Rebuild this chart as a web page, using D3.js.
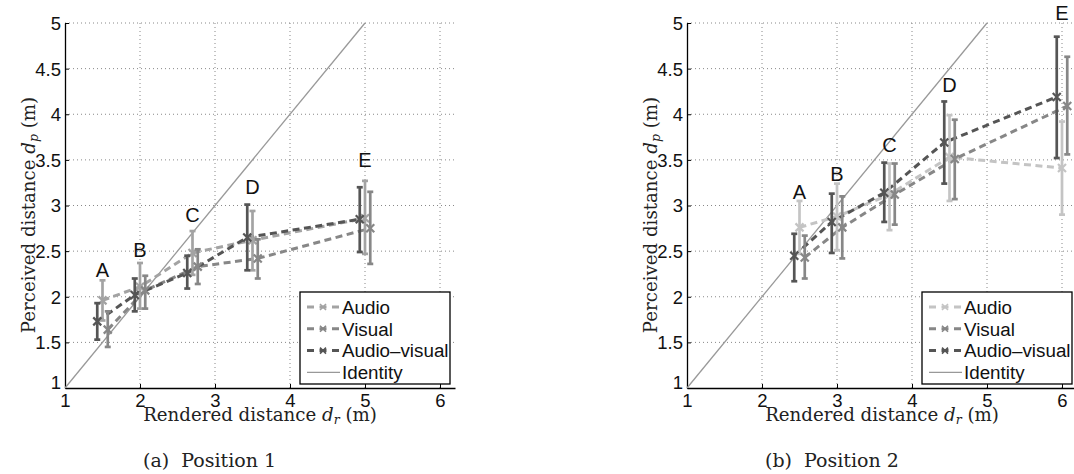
<!DOCTYPE html>
<html><head><meta charset="utf-8">
<script src="https://d3js.org/d3.v7.min.js"></script>
<style>body{margin:0;background:#fff}svg{display:block}</style>
</head><body><svg id="c" width="1074" height="474"></svg>
<script>
// ---------- data ----------
const categories = ["A","B","C","D","E"];
const seriesNames = ["Audio","Visual","Audio\u2013visual"];
const xTicks = [1,2,3,4,5,6];
const yTicks = [1,1.5,2,2.5,3,3.5,4,4.5,5];

// Position 1
const p1Rendered = [1.5, 2.0, 2.7, 3.5, 5.0];
const p1AudioMean = [1.96, 2.11, 2.48, 2.62, 2.86];
const p1AudioHi   = [2.18, 2.37, 2.72, 2.94, 3.27];
const p1AudioLo   = [1.74, 1.87, 2.24, 2.29, 2.47];
const p1VisualMean = [1.64, 2.07, 2.33, 2.42, 2.75];
const p1VisualHi   = [1.84, 2.23, 2.52, 2.63, 3.15];
const p1VisualLo   = [1.45, 1.87, 2.14, 2.20, 2.36];
const p1AVMean = [1.73, 2.02, 2.26, 2.65, 2.85];
const p1AVHi   = [1.93, 2.20, 2.45, 3.01, 3.20];
const p1AVLo   = [1.53, 1.84, 2.09, 2.29, 2.49];
const p1LabelY = [2.29, 2.52, 2.90, 3.20, 3.50];

// Position 2
const p2Rendered = [2.5, 3.0, 3.7, 4.5, 6.0];
const p2AudioMean = [2.76, 2.88, 3.12, 3.53, 3.41];
const p2AudioHi   = [3.05, 3.24, 3.46, 3.99, 3.92];
const p2AudioLo   = [2.47, 2.51, 2.73, 3.05, 2.90];
const p2VisualMean = [2.43, 2.76, 3.12, 3.51, 4.09];
const p2VisualHi   = [2.67, 3.10, 3.46, 3.94, 4.63];
const p2VisualLo   = [2.20, 2.42, 2.79, 3.07, 3.56];
const p2AVMean = [2.45, 2.82, 3.14, 3.69, 4.19];
const p2AVHi   = [2.69, 3.13, 3.47, 4.14, 4.85];
const p2AVLo   = [2.17, 2.48, 2.82, 3.24, 3.52];
const p2LabelY = [3.15, 3.35, 3.66, 4.32, 5.11];

const identity = [[1,1],[5,5]];

// ---------- drawing ----------
const svg = d3.select("#c");
const SANS = "'Liberation Sans', Arial, Helvetica, sans-serif";
const SERIF = "'DejaVu Serif', 'Liberation Serif', serif";
const seriesOffset = [0, 0.07, -0.07];

function panel(cfg){
  const g = svg.append("g");
  const x = d3.scaleLinear().domain([1, 6.2]).range([cfg.left, cfg.left + 390]);
  const y = d3.scaleLinear().domain([1, 5]).range([388, 23]);

  // grid
  g.append("g").selectAll("line").data(xTicks.slice(1)).join("line")
    .attr("x1", d => x(d)).attr("x2", d => x(d)).attr("y1", y(1)).attr("y2", y(5))
    .attr("stroke", "#888").attr("stroke-width", 1).attr("stroke-dasharray", "1,3");
  g.append("g").selectAll("line").data(yTicks.slice(1)).join("line")
    .attr("x1", x(1)).attr("x2", x(6.2)).attr("y1", d => y(d)).attr("y2", d => y(d))
    .attr("stroke", "#888").attr("stroke-width", 1).attr("stroke-dasharray", "1,3");

  // axes
  const xa = g.append("g").attr("transform", `translate(0,${y(1)})`)
    .call(d3.axisBottom(x).tickValues(xTicks).tickFormat(d3.format("d")).tickSizeInner(-4).tickSizeOuter(0).tickPadding(6));
  const ya = g.append("g").attr("transform", `translate(${x(1)},0)`)
    .call(d3.axisLeft(y).tickValues(yTicks).tickFormat(d => String(d)).tickSizeInner(-4).tickSizeOuter(0).tickPadding(4));
  [xa, ya].forEach(a => {
    a.select(".domain").attr("stroke", "#000").attr("stroke-width", 1.3);
    a.selectAll(".tick line").attr("stroke", "#000");
    a.selectAll("text").attr("font-family", SANS).attr("font-size", 18.5).attr("fill", "#111");
  });
  ya.selectAll(".tick text").attr("dy", "0.35em");
  ya.selectAll(".tick").filter(d => d === 1).select("text").attr("dy", "0.0em");

  // identity line
  g.append("line")
    .attr("x1", x(identity[0][0])).attr("y1", y(identity[0][1]))
    .attr("x2", x(identity[1][0])).attr("y2", y(identity[1][1]))
    .attr("stroke", "#999").attr("stroke-width", 1.3);

  // series lines
  cfg.series.forEach((s, si) => {
    const pts = cfg.rendered.map((r, i) => [x(r + seriesOffset[si]), y(s.mean[i])]);
    g.append("path").attr("d", d3.line()(pts)).attr("fill", "none")
      .attr("stroke", s.color).attr("stroke-width", 3).attr("stroke-dasharray", "7,4.5");
  });
  // error bars + markers
  [0, 1, 2].forEach(si => {
    const s = cfg.series[si];
    cfg.rendered.forEach((r, i) => {
      const cx = x(r + seriesOffset[si]);
      const eg = g.append("g").attr("stroke", s.color).attr("stroke-width", 2.7);
      eg.append("line").attr("x1", cx).attr("x2", cx).attr("y1", y(s.hi[i])).attr("y2", y(s.lo[i]));
      eg.append("line").attr("x1", cx - 3).attr("x2", cx + 3).attr("y1", y(s.hi[i])).attr("y2", y(s.hi[i]));
      eg.append("line").attr("x1", cx - 3).attr("x2", cx + 3).attr("y1", y(s.lo[i])).attr("y2", y(s.lo[i]));
      const my = y(s.mean[i]);
      eg.append("path").attr("d", `M${cx-4},${my-4}L${cx+4},${my+4}M${cx-4},${my+4}L${cx+4},${my-4}`).attr("stroke-width", 2.2);
    });
  });

  // category labels
  g.append("g").selectAll("text").data(categories).join("text")
    .attr("x", (d, i) => x(cfg.rendered[i])).attr("y", (d, i) => y(cfg.labelY[i]))
    .attr("dy", "0.36em").attr("text-anchor", "middle")
    .attr("font-family", SANS).attr("font-size", 20).attr("fill", "#111").text(d => d);

  // legend
  const lx = cfg.left + 235, ly = 292;
  const lg = g.append("g");
  lg.append("rect").attr("x", lx).attr("y", ly).attr("width", 150).attr("height", 92)
    .attr("fill", "#fff").attr("stroke", "#000").attr("stroke-width", 1.3);
  [0, 1, 2, 3].forEach(ri => {
    const ry = ly + 15 + ri * 21.8;
    if (ri < 3) {
      const s = cfg.series[ri];
      lg.append("line").attr("x1", lx + 7).attr("x2", lx + 39).attr("y1", ry).attr("y2", ry)
        .attr("stroke", s.color).attr("stroke-width", 3).attr("stroke-dasharray", "7,5.5");
      const mx = lx + 23;
      lg.append("path").attr("d", `M${mx-3},${ry-3}L${mx+3},${ry+3}M${mx-3},${ry+3}L${mx+3},${ry-3}`)
        .attr("stroke", s.color).attr("stroke-width", 1.6);
      lg.append("text").attr("x", lx + 42).attr("y", ry).attr("dy", "0.36em")
        .attr("font-family", SANS).attr("font-size", 18.8).attr("fill", "#111").text(seriesNames[ri]);
    } else {
      lg.append("line").attr("x1", lx + 7).attr("x2", lx + 40).attr("y1", ry).attr("y2", ry)
        .attr("stroke", "#999").attr("stroke-width", 1.3);
      lg.append("text").attr("x", lx + 42).attr("y", ry).attr("dy", "0.36em")
        .attr("font-family", SANS).attr("font-size", 18.8).attr("fill", "#111").text("Identity");
    }
  });

  // axis titles
  const xt = g.append("text").attr("x", cfg.left + 195).attr("y", 421).attr("text-anchor", "middle")
    .attr("font-family", SERIF).attr("font-size", 18.2).attr("fill", "#222");
  xt.append("tspan").text("Rendered distance ");
  xt.append("tspan").attr("font-style", "italic").text("d");
  xt.append("tspan").attr("font-style", "italic").attr("font-size", 12.5).attr("dy", 3).text("r");
  xt.append("tspan").attr("dy", -3).text(" (m)");

  const yt = g.append("text").attr("transform", `translate(${cfg.left - 30},${215}) rotate(-90)`)
    .attr("text-anchor", "middle").attr("font-family", SERIF).attr("font-size", 18.2).attr("fill", "#222");
  yt.append("tspan").text("Perceived distance ");
  yt.append("tspan").attr("font-style", "italic").text("d");
  yt.append("tspan").attr("font-style", "italic").attr("font-size", 12.5).attr("dy", 3).text("p");
  yt.append("tspan").attr("dy", -3).text(" (m)");

  // caption
  g.append("text").attr("x", cfg.left + 78).attr("y", 467)
    .attr("font-family", SERIF).attr("font-size", 19).attr("fill", "#222")
    .text(cfg.caption);
}

panel({
  left: 65, caption: "(a)\u00a0\u00a0Position 1", rendered: p1Rendered, labelY: p1LabelY,
  series: [
    {mean: p1AudioMean, hi: p1AudioHi, lo: p1AudioLo, color: "#a3a3a3"},
    {mean: p1VisualMean, hi: p1VisualHi, lo: p1VisualLo, color: "#878787"},
    {mean: p1AVMean, hi: p1AVHi, lo: p1AVLo, color: "#555555"}
  ]
});
panel({
  left: 687, caption: "(b)\u00a0\u00a0Position 2", rendered: p2Rendered, labelY: p2LabelY,
  series: [
    {mean: p2AudioMean, hi: p2AudioHi, lo: p2AudioLo, color: "#c4c4c4"},
    {mean: p2VisualMean, hi: p2VisualHi, lo: p2VisualLo, color: "#878787"},
    {mean: p2AVMean, hi: p2AVHi, lo: p2AVLo, color: "#555555"}
  ]
});
</script></body></html>
